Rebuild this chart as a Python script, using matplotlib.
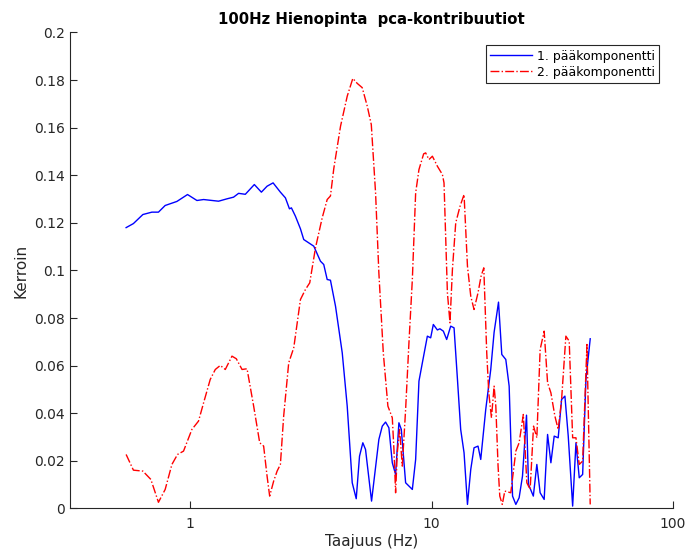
import matplotlib
matplotlib.use('Agg')
import matplotlib.pyplot as plt
from matplotlib.ticker import FixedLocator, FixedFormatter, NullLocator

# 1. pääkomponentti
freq1 = [0.5425, 0.5816, 0.6365, 0.6936, 0.7385, 0.7874, 0.8806, 0.9745, 1.066, 1.136,
         1.310, 1.420, 1.512, 1.586, 1.691, 1.843, 1.971, 2.081, 2.204, 2.363,
         2.479, 2.576, 2.625, 2.727, 2.861, 2.952, 3.097, 3.249, 3.462, 3.573,
         3.692, 3.809, 3.997, 4.262, 4.469, 4.688, 4.870, 5.026, 5.187, 5.322,
         5.637, 6.044, 6.244, 6.444, 6.650, 6.870, 7.090, 7.317, 7.487, 7.801,
         8.317, 8.584, 8.859, 9.151, 9.598, 9.906, 10.16, 10.56, 10.82, 11.18,
         11.54, 11.99, 12.38, 12.79, 13.19, 13.62, 14.07, 14.52, 14.98, 15.56,
         15.97, 16.75, 17.57, 18.14, 18.92, 19.52, 20.28, 20.94, 21.63, 22.32,
         23.03, 23.78, 24.71, 25.19, 26.37, 27.27, 28.14, 29.24, 30.21, 31.18,
         32.18, 33.43, 34.53, 35.64, 36.79, 38.37, 39.60, 40.86, 42.21, 43.55,
         45.37]
comp1 = [0.1180, 0.1197, 0.1235, 0.1245, 0.1245, 0.1273, 0.1290, 0.1319, 0.1294, 0.1298,
         0.1291, 0.1301, 0.1308, 0.1324, 0.1320, 0.1361, 0.1329, 0.1354, 0.1368, 0.1329,
         0.1305, 0.1259, 0.1263, 0.1228, 0.1175, 0.1130, 0.1116, 0.1102, 0.1039, 0.1025,
         0.0962, 0.0959, 0.0850, 0.0654, 0.0430, 0.0108, 0.0041, 0.0220, 0.0276, 0.0248,
         0.0031, 0.0290, 0.0346, 0.0363, 0.0339, 0.0192, 0.0143, 0.0360, 0.0332, 0.0108,
         0.0080, 0.0206, 0.0535, 0.0612, 0.0724, 0.0717, 0.0773, 0.0750, 0.0755, 0.0745,
         0.0710, 0.0766, 0.0759, 0.0542, 0.0332, 0.0234, 0.0017, 0.0164, 0.0255, 0.0262,
         0.0206, 0.0416, 0.0584, 0.0740, 0.0867, 0.0647, 0.0626, 0.0514, 0.0052, 0.0017,
         0.0045, 0.0136, 0.0392, 0.0101, 0.0052, 0.0185, 0.0066, 0.0038, 0.0311, 0.0192,
         0.0304, 0.0297, 0.0458, 0.0472, 0.0304, 0.0010, 0.0276, 0.0129, 0.0143, 0.0542,
         0.0713]

# 2. pääkomponentti
freq2 = [0.5425, 0.5816, 0.6365, 0.6870, 0.7385, 0.7874, 0.8396, 0.8859, 0.9380, 1.016,
         1.082, 1.136, 1.210, 1.270, 1.332, 1.397, 1.489, 1.552, 1.639, 1.719,
         1.831, 1.940, 2.014, 2.081, 2.133, 2.216, 2.290, 2.363, 2.438, 2.558,
         2.684, 2.861, 3.000, 3.126, 3.302, 3.520, 3.692, 3.809, 3.932, 4.193,
         4.469, 4.715, 4.917, 5.157, 5.411, 5.623, 5.857, 6.044, 6.305, 6.588,
         6.870, 6.978, 7.090, 7.205, 7.366, 7.557, 7.801, 8.052, 8.317, 8.584,
         8.859, 9.265, 9.443, 9.746, 10.07, 10.56, 11.08, 11.25, 11.62, 11.91,
         12.19, 12.58, 13.11, 13.62, 14.07, 14.52, 14.98, 15.56, 16.02, 16.44,
         16.91, 17.24, 17.69, 18.14, 18.44, 18.84, 19.15, 19.61, 20.09, 21.27,
         22.32, 23.03, 23.97, 24.79, 25.58, 26.42, 27.27, 28.14, 29.24, 30.21,
         31.18, 32.39, 33.43, 34.53, 35.97, 37.13, 38.37, 39.60, 40.86, 42.21,
         43.98, 45.37]
comp2 = [0.0227, 0.0161, 0.0157, 0.0122, 0.0026, 0.0080, 0.0185, 0.0227, 0.0241, 0.0332,
         0.0367, 0.0444, 0.0542, 0.0584, 0.0601, 0.0584, 0.0640, 0.0629, 0.0584, 0.0587,
         0.0430, 0.0276, 0.0262, 0.0136, 0.0052, 0.0115, 0.0157, 0.0185, 0.0388, 0.0612,
         0.0675, 0.0878, 0.0920, 0.0948, 0.1095, 0.1221, 0.1298, 0.1313, 0.1428, 0.1606,
         0.1732, 0.1807, 0.1786, 0.1768, 0.1690, 0.1613, 0.1326, 0.0990, 0.0654, 0.0430,
         0.0381, 0.0248, 0.0066, 0.0234, 0.0332, 0.0178, 0.0416, 0.0696, 0.0962, 0.1326,
         0.1424, 0.1490, 0.1494, 0.1466, 0.1480, 0.1438, 0.1403, 0.1368, 0.0906, 0.0780,
         0.1004, 0.1200, 0.1270, 0.1319, 0.1018, 0.0892, 0.0836, 0.0906, 0.0976, 0.1011,
         0.0654, 0.0486, 0.0381, 0.0514, 0.0430, 0.0178, 0.0052, 0.0017, 0.0073, 0.0066,
         0.0241, 0.0276, 0.0395, 0.0108, 0.0080, 0.0346, 0.0297, 0.0668, 0.0745, 0.0528,
         0.0486, 0.0388, 0.0332, 0.0458, 0.0724, 0.0703, 0.0297, 0.0297, 0.0185, 0.0199,
         0.0689, 0.0017]

ytick_vals = [0, 0.02, 0.04, 0.06, 0.08, 0.1, 0.12, 0.14, 0.16, 0.18, 0.2]
ytick_labels = ['0', '0.02', '0.04', '0.06', '0.08', '0.1', '0.12', '0.14', '0.16', '0.18', '0.2']
xtick_vals = [1, 10, 100]
xtick_labels = ['1', '10', '100']

plt.rcParams['font.family'] = 'DejaVu Sans'

fig = plt.figure(figsize=(6.89, 5.5), dpi=100)
ax = fig.add_axes([0.1009, 0.0755, 0.876, 0.8655])

ax.plot(freq1, comp1, color='#0000ff', lw=1.0, label='1. pääkomponentti')
ax.plot(freq2, comp2, color='#ff0000', lw=1.0, ls='-.', label='2. pääkomponentti')

ax.set_xscale('log')
ax.set_xlim(10 ** -0.5, 100)
ax.set_ylim(0, 0.2)

ax.xaxis.set_major_locator(FixedLocator(xtick_vals))
ax.xaxis.set_major_formatter(FixedFormatter(xtick_labels))
ax.xaxis.set_minor_locator(NullLocator())
ax.yaxis.set_major_locator(FixedLocator(ytick_vals))
ax.yaxis.set_major_formatter(FixedFormatter(ytick_labels))

for side in ['top', 'right']:
    ax.spines[side].set_visible(False)
for side in ['left', 'bottom']:
    ax.spines[side].set_color('#262626')
    ax.spines[side].set_linewidth(0.8)

ax.tick_params(direction='in', length=5, width=0.8, colors='#262626',
               labelsize=10, labelcolor='#262626')
ax.tick_params(axis='x', pad=6)

ax.set_xlabel('Taajuus (Hz)', fontsize=11, color='#262626', labelpad=2)
ax.set_ylabel('Kerroin', fontsize=11, color='#262626')
ax.set_title('100Hz Hienopinta  pca-kontribuutiot', fontsize=10.7,
             fontweight='bold', pad=6)

leg = ax.legend(loc='upper right', bbox_to_anchor=(0.987, 0.986), fontsize=9,
                fancybox=False, framealpha=1, edgecolor='#262626',
                handlelength=3.3, borderpad=0.35, labelspacing=0.25, handletextpad=0.4)
leg.get_frame().set_linewidth(0.8)

fig.savefig('out.png', dpi=100)
